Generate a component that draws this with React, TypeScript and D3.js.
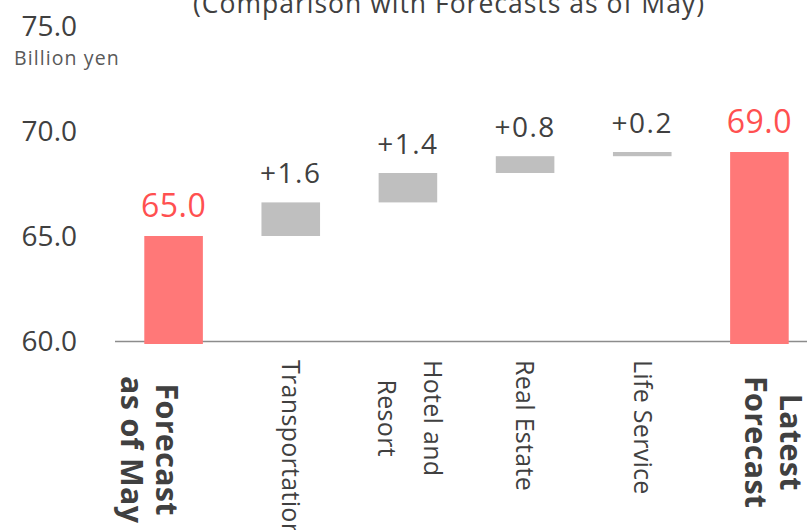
import React, { useRef, useEffect } from 'react';
import * as d3 from 'd3';

const categories = ['Forecast as of May', 'Transportation', 'Hotel and Resort', 'Real Estate', 'Life Service', 'Latest Forecast'];
const categoryLines = [['Forecast', 'as of May'], ['Transportation'], ['Hotel and', 'Resort'], ['Real Estate'], ['Life Service'], ['Latest', 'Forecast']];
const totals = [65.0, 69.0];
const deltas = [1.6, 1.4, 0.8, 0.2];
const yTicks = [60, 65, 70, 75];

export default function App() {
	const svgWidth = 807;
	const svgHeight = 530;
	const ref = useRef<SVGSVGElement>(null);

	useEffect(() => {
		if (!ref.current) return;
		const svg = d3.select(ref.current);
		svg.selectAll('*').remove();

		const font = '"Open Sans", sans-serif';
		const textColor = '#404040';

		const x = d3.scaleBand().domain(categories).range([115, 818]).paddingInner(0.5).paddingOuter(0.25);
		const y = d3.scaleLinear().domain([60, 75]).range([341, 26]);

		/* build waterfall steps */
		const steps: { cat: string; from: number; to: number; total: boolean; label: string }[] = [];
		steps.push({ cat: categories[0], from: 60, to: totals[0], total: true, label: d3.format('.1f')(totals[0]) });
		let run = totals[0];
		deltas.forEach((d, i) => {
			steps.push({ cat: categories[i + 1], from: run, to: run + d, total: false, label: '+' + d3.format('.1f')(d) });
			run += d;
		});
		steps.push({ cat: categories[5], from: 60, to: totals[1], total: true, label: d3.format('.1f')(totals[1]) });

		// title (its first line is cropped off in the original)
		svg.append('text')
			.attr('x', 449)
			.attr('y', 13)
			.attr('text-anchor', 'middle')
			.style('font-family', font)
			.style('font-size', '26.5px')
			.style('letter-spacing', '1px')
			.style('fill', textColor)
			.text('(Comparison with Forecasts as of May)');

		svg.append('text')
			.attr('x', 14)
			.attr('y', 65)
			.style('font-family', font)
			.style('font-size', '19.5px')
			.style('letter-spacing', '1.1px')
			.style('fill', '#595959')
			.text('Billion yen');

		// y tick labels
		svg.append('g')
			.selectAll('text')
			.data(yTicks)
			.join('text')
			.attr('x', 77)
			.attr('y', (d) => y(d))
			.attr('dy', '0.35em')
			.attr('text-anchor', 'end')
			.style('font-family', font)
			.style('font-size', '28px')
			.style('fill', textColor)
			.text((d) => d3.format('.1f')(d));

		// baseline
		svg.append('line')
			.attr('x1', 115)
			.attr('x2', svgWidth)
			.attr('y1', y(60) + 0.5)
			.attr('y2', y(60) + 0.5)
			.attr('stroke', '#8c8c8c')
			.attr('stroke-width', 1.3);

		// bars
		svg.append('g')
			.selectAll('rect')
			.data(steps)
			.join('rect')
			.attr('x', (d) => x(d.cat)!)
			.attr('width', x.bandwidth())
			.attr('y', (d) => y(d.to))
			.attr('height', (d) => y(d.from) - y(d.to) + (d.total ? 3 : 0))
			.attr('fill', (d) => (d.total ? '#ff7878' : '#bfbfbf'));

		// value labels
		svg.append('g')
			.selectAll('text')
			.data(steps)
			.join('text')
			.attr('x', (d) => x(d.cat)! + x.bandwidth() / 2)
			.attr('y', (d) => y(d.to) - 19)
			.attr('text-anchor', 'middle')
			.style('font-family', font)
			.style('font-size', (d) => (d.total ? '32px' : '28px'))
			.style('letter-spacing', (d) => (d.total ? '0.5px' : '1.5px'))
			.style('fill', (d) => (d.total ? '#ff5050' : textColor))
			.text((d) => d.label);

		// category labels, rotated, reading top to bottom
		const nudge = [-24, 0, 2, 0, 0, 14];
		categoryLines.forEach((lines, i) => {
			const bold = i === 0 || i === 5;
			const size = bold ? 30.5 : 25;
			const lineGap = bold ? 35 : 46;
			const top = bold ? 376 : 360;
			const cx = x(categories[i])! + x.bandwidth() / 2 + nudge[i];
			const g = svg.append('g');
			const texts = lines.map((line, j) => {
				const lx = cx + ((lines.length - 1) / 2 - j) * lineGap;
				return g
					.append('text')
					.attr('transform', `translate(${lx},${top}) rotate(90)`)
					.attr('dy', '0.35em')
					.style('font-family', font)
					.style('font-size', size + 'px')
					.style('font-weight', bold ? 'bold' : 'normal')
					.style('letter-spacing', '0.3px')
					.style('fill', textColor)
					.text(line);
			});
			const lens = texts.map((t) => (t.node() as SVGTextElement).getComputedTextLength());
			const maxLen = d3.max(lens) || 0;
			texts.forEach((t, j) => t.attr('x', (maxLen - lens[j]) / 2));
		});
	}, []);

	return (
		<svg
			ref={ref}
			width={svgWidth}
			height={svgHeight}
			style={{ position: 'absolute', left: 0, top: 0, background: '#fff' }}
		/>
	);
}
